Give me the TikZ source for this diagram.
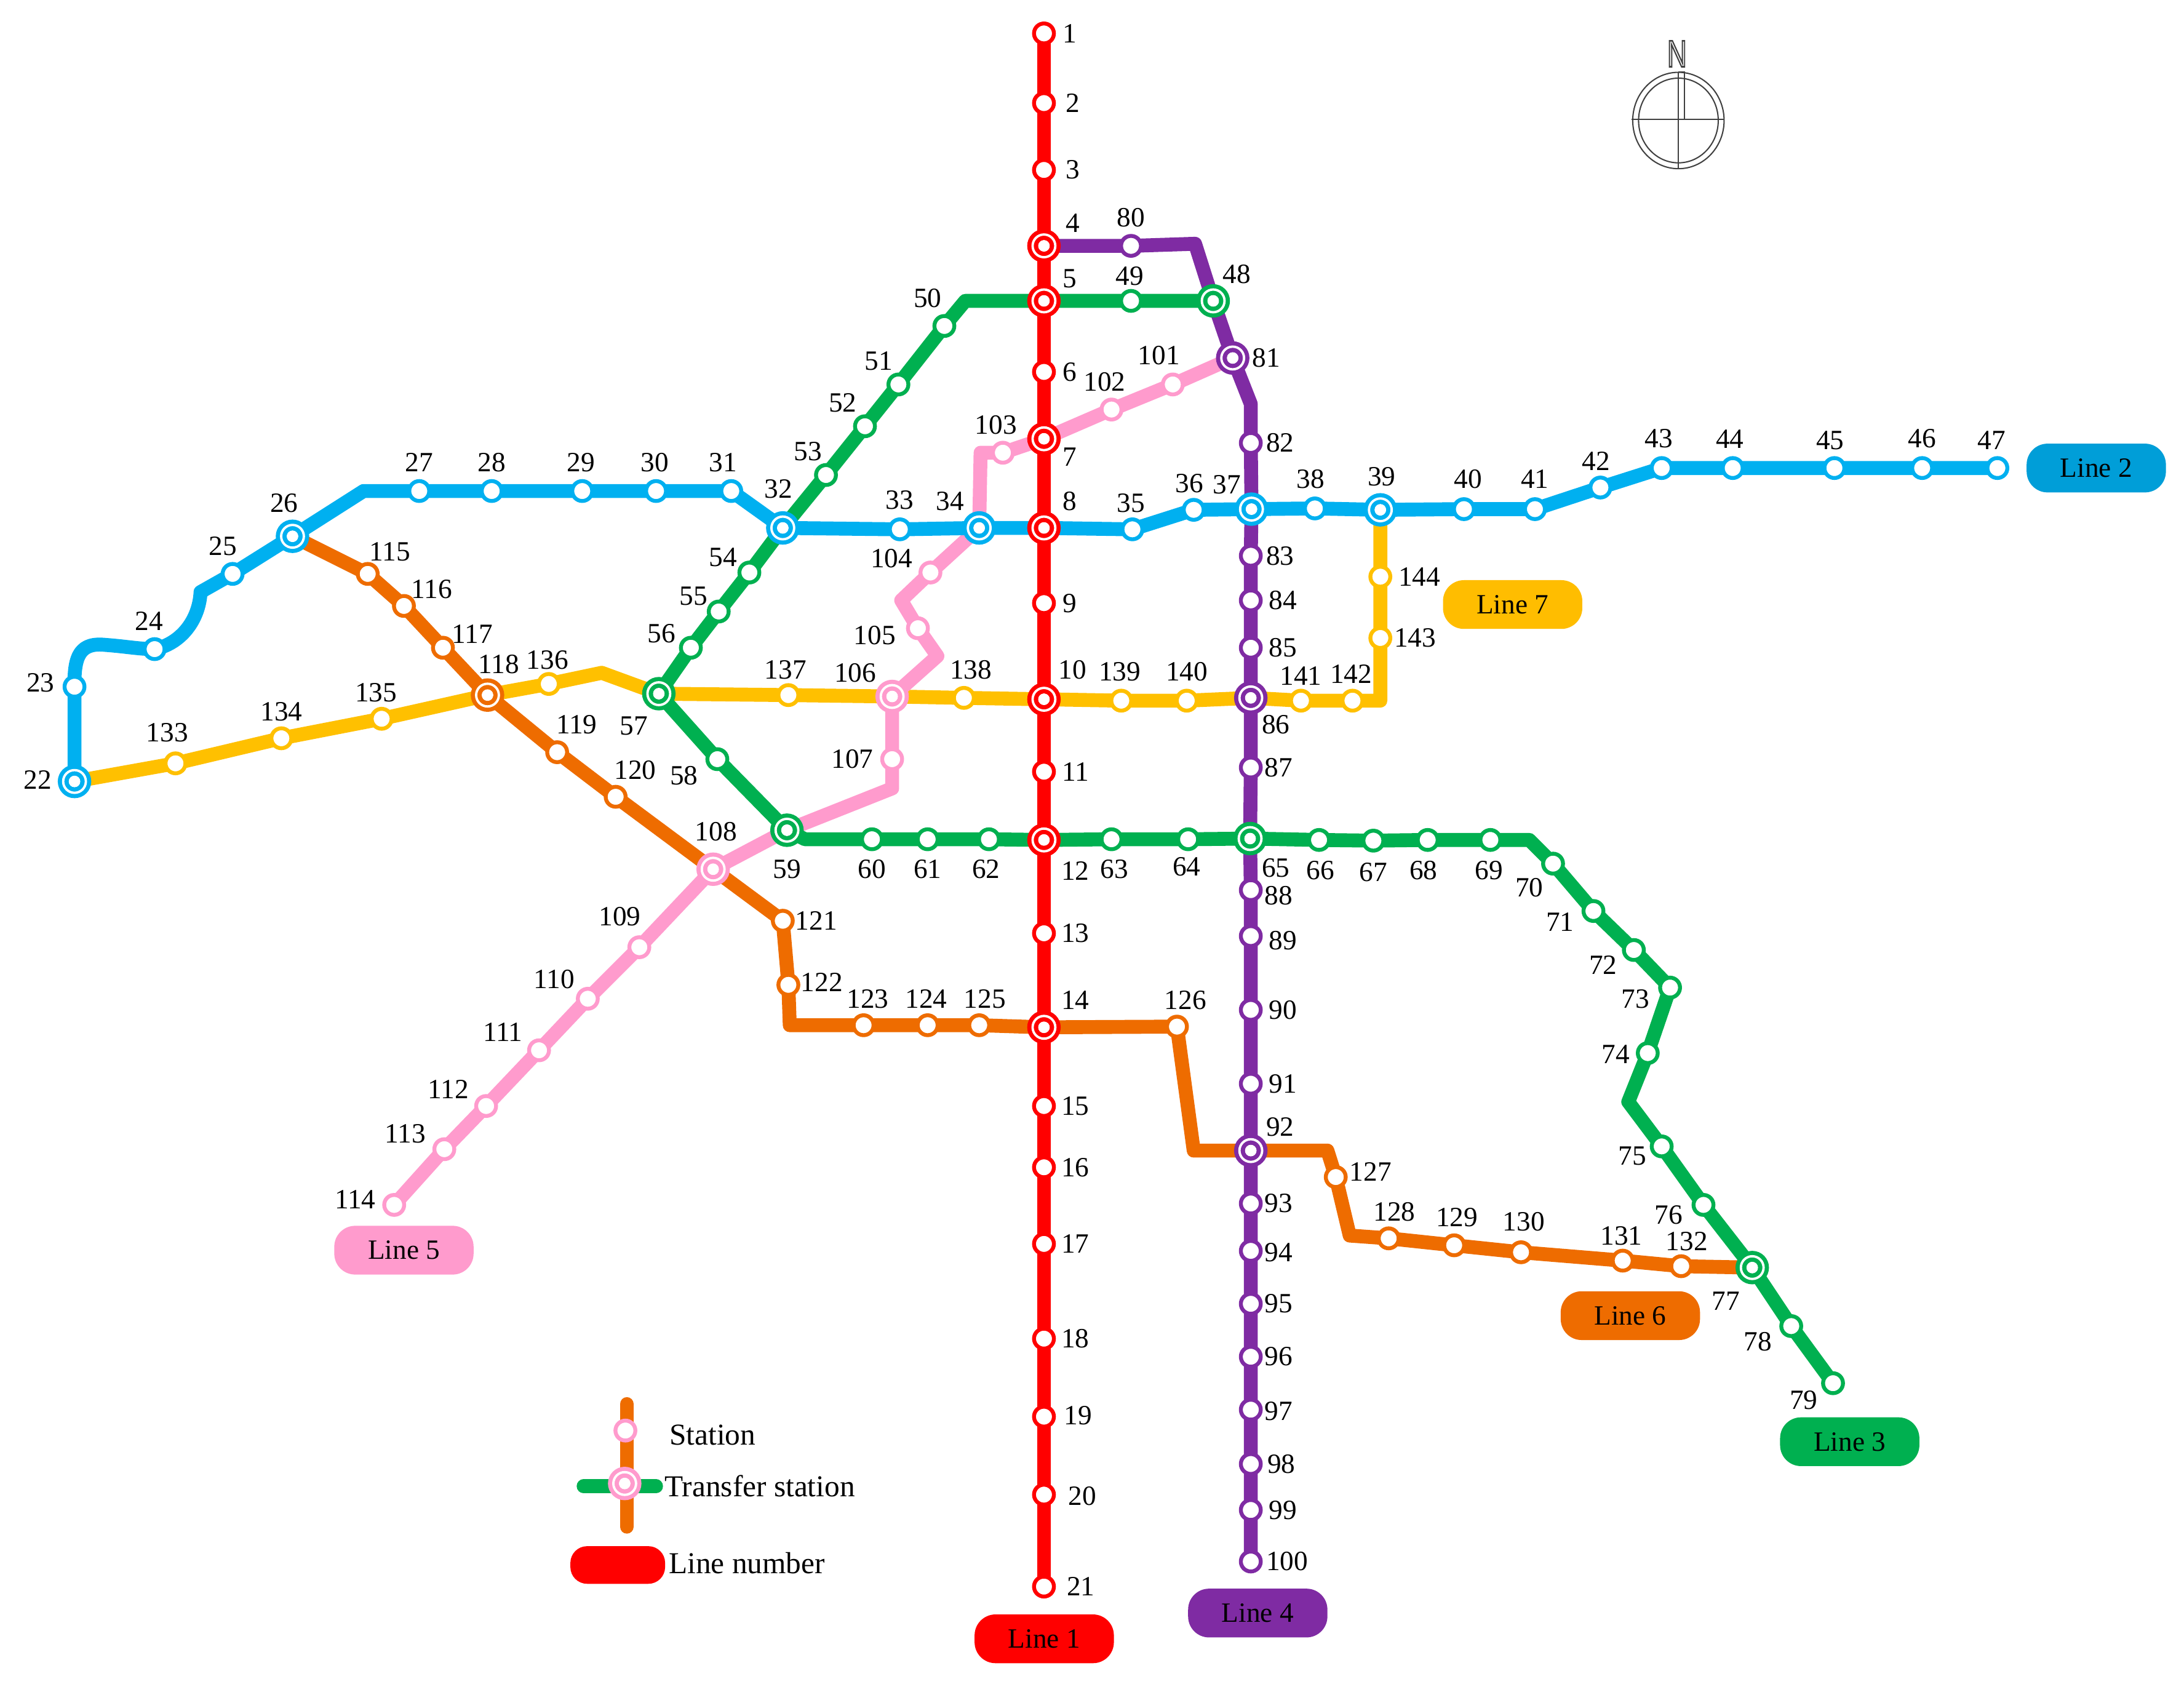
\documentclass[tikz,border=0pt]{standalone}
\usepackage{fontspec}
\setmainfont{Liberation Serif}
\newfontfamily\northfont{Liberation Sans}
\usetikzlibrary{backgrounds}
\definecolor{lred}{HTML}{FF0000}
\definecolor{lblue}{HTML}{00B0F0}
\definecolor{lgreen}{HTML}{00B050}
\definecolor{lpurple}{HTML}{7F2BA3}
\definecolor{lpink}{HTML}{FF9BCD}
\definecolor{lorange}{HTML}{EE6C00}
\definecolor{lyellow}{HTML}{FFC000}
\definecolor{ngray}{HTML}{404040}

\begin{document}
\begin{tikzpicture}[x=1pt,y=-1pt,
    station/.style={circle,minimum size=14.3pt,inner sep=0pt,outer sep=0pt,fill=white,draw=#1,line width=2.8pt},
    transfer/.style={circle,minimum size=16.3pt,inner sep=0pt,outer sep=0pt,fill=#1,draw=#1,line width=3pt,double=white,double distance=1.7pt,
        path picture={\fill[white] (path picture bounding box.center) circle (4.2pt);}},
    num/.style={font=\fontsize{20}{20}\selectfont,inner sep=0pt},
    legendtext/.style={font=\fontsize{21.8}{22}\selectfont,inner sep=0pt,anchor=west},
    pill/.style={rectangle,rounded corners=15pt,minimum width=100pt,minimum height=35pt,fill=#1,inner sep=0pt,font=\fontsize{20}{20}\selectfont},
    metro/.style={draw=#1,line width=10pt,line join=round}]
    \path[use as bounding box] (0,0) rectangle (1568,1211.1);

    % line 1
    \node[station=lred] (s1) at (749.5,24) {}; \node[num] (n1) at (768,24) {1};
    \node[station=lred] (s2) at (749.5,74) {}; \node[num] (n2) at (770,74) {2};
    \node[station=lred] (s3) at (749.5,122) {}; \node[num] (n3) at (770,122) {3};
    \node[transfer=lred] (s4) at (749.5,176.5) {}; \node[num] (n4) at (770,160) {4};
    \node[transfer=lred] (s5) at (749.5,216) {}; \node[num] (n5) at (768,200) {5};
    \node[station=lred] (s6) at (749.5,267) {}; \node[num] (n6) at (768,267) {6};
    \node[transfer=lred] (s7) at (749.5,315) {}; \node[num] (n7) at (768,328) {7};
    \node[transfer=lred] (s8) at (749.5,379) {}; \node[num] (n8) at (768,360) {8};
    \node[station=lred] (s9) at (749.5,433) {}; \node[num] (n9) at (768,433) {9};
    \node[transfer=lred] (s10) at (749.5,502) {}; \node[num] (n10) at (770,481) {10};
    \node[station=lred] (s11) at (749.5,554) {}; \node[num] (n11) at (772,554) {11};
    \node[transfer=lred] (s12) at (749.5,603) {}; \node[num] (n12) at (772,625) {12};
    \node[station=lred] (s13) at (749.5,670) {}; \node[num] (n13) at (772,670) {13};
    \node[transfer=lred] (s14) at (749.5,737.5) {}; \node[num] (n14) at (772,718) {14};
    \node[station=lred] (s15) at (749.5,794) {}; \node[num] (n15) at (772,794) {15};
    \node[station=lred] (s16) at (749.5,838) {}; \node[num] (n16) at (772,838) {16};
    \node[station=lred] (s17) at (749.5,893) {}; \node[num] (n17) at (772,893) {17};
    \node[station=lred] (s18) at (749.5,961) {}; \node[num] (n18) at (772,961) {18};
    \node[station=lred] (s19) at (749.5,1017) {}; \node[num] (n19) at (774,1016) {19};
    \node[station=lred] (s20) at (749.5,1073) {}; \node[num] (n20) at (777,1074) {20};
    \node[station=lred] (s21) at (749.5,1139) {}; \node[num] (n21) at (776,1139) {21};

    % line 2
    \node[transfer=lblue] (s22) at (53.5,561) {}; \node[num] (n22) at (27,560) {22};
    \node[station=lblue] (s23) at (53.5,493) {}; \node[num] (n23) at (29,490) {23};
    \node[station=lblue] (s24) at (111,466) {}; \node[num] (n24) at (107,446) {24};
    \node[station=lblue] (s25) at (167,412) {}; \node[num] (n25) at (160,392) {25};
    \node[transfer=lblue] (s26) at (210,385) {}; \node[num] (n26) at (204,361) {26};
    \node[station=lblue] (s27) at (301,352.5) {}; \node[num] (n27) at (301,332) {27};
    \node[station=lblue] (s28) at (353,352.5) {}; \node[num] (n28) at (353,332) {28};
    \node[station=lblue] (s29) at (418,352.5) {}; \node[num] (n29) at (417,332) {29};
    \node[station=lblue] (s30) at (471,352.5) {}; \node[num] (n30) at (470,332) {30};
    \node[station=lblue] (s31) at (525,352.5) {}; \node[num] (n31) at (519,332) {31};
    \node[transfer=lblue] (s32) at (562,379) {}; \node[num] (n32) at (559,351) {32};
    \node[station=lblue] (s33) at (646,380) {}; \node[num] (n33) at (646,359) {33};
    \node[transfer=lblue] (s34) at (703,379) {}; \node[num] (n34) at (682,360) {34};
    \node[station=lblue] (s35) at (813,380) {}; \node[num] (n35) at (812,361) {35};
    \node[station=lblue] (s36) at (857,366) {}; \node[num] (n36) at (854,347) {36};
    \node[transfer=lblue] (s37) at (898.5,365.5) {}; \node[num] (n37) at (881,348) {37};
    \node[station=lblue] (s38) at (944,365) {}; \node[num] (n38) at (941,344) {38};
    \node[transfer=lblue] (s39) at (991,366) {}; \node[num] (n39) at (992,342) {39};
    \node[station=lblue] (s40) at (1051,365.5) {}; \node[num] (n40) at (1054,344) {40};
    \node[station=lblue] (s41) at (1102,365.5) {}; \node[num] (n41) at (1102,344) {41};
    \node[station=lblue] (s42) at (1149,350) {}; \node[num] (n42) at (1146,331) {42};
    \node[station=lblue] (s43) at (1193,336) {}; \node[num] (n43) at (1191,315) {43};
    \node[station=lblue] (s44) at (1244,336) {}; \node[num] (n44) at (1242,315) {44};
    \node[station=lblue] (s45) at (1317,336) {}; \node[num] (n45) at (1314,316) {45};
    \node[station=lblue] (s46) at (1380,336) {}; \node[num] (n46) at (1380,315) {46};
    \node[station=lblue] (s47) at (1434,336) {}; \node[num] (n47) at (1430,316) {47};

    % line 3
    \node[transfer=lgreen] (s48) at (871,216) {}; \node[num] (n48) at (888,197) {48};
    \node[station=lgreen] (s49) at (812,216) {}; \node[num] (n49) at (811,198) {49};
    \node[station=lgreen] (s50) at (678,234) {}; \node[num] (n50) at (666,214) {50};
    \node[station=lgreen] (s51) at (645,276) {}; \node[num] (n51) at (631,259) {51};
    \node[station=lgreen] (s52) at (621,306) {}; \node[num] (n52) at (605,289) {52};
    \node[station=lgreen] (s53) at (593,341) {}; \node[num] (n53) at (580,324) {53};
    \node[station=lgreen] (s54) at (538,411) {}; \node[num] (n54) at (519,400) {54};
    \node[station=lgreen] (s55) at (516,439) {}; \node[num] (n55) at (498,428) {55};
    \node[station=lgreen] (s56) at (496,465) {}; \node[num] (n56) at (475,455) {56};
    \node[transfer=lgreen] (s57) at (473,498) {}; \node[num] (n57) at (455,521) {57};
    \node[station=lgreen] (s58) at (515,545) {}; \node[num] (n58) at (491,557) {58};
    \node[transfer=lgreen] (s59) at (565,596) {}; \node[num] (n59) at (565,624) {59};
    \node[station=lgreen] (s60) at (626,602.5) {}; \node[num] (n60) at (626,624) {60};
    \node[station=lgreen] (s61) at (666,602.5) {}; \node[num] (n61) at (666,624) {61};
    \node[station=lgreen] (s62) at (710,602.5) {}; \node[num] (n62) at (708,624) {62};
    \node[station=lgreen] (s63) at (798,602.5) {}; \node[num] (n63) at (800,624) {63};
    \node[station=lgreen] (s64) at (853,602.5) {}; \node[num] (n64) at (852,622) {64};
    \node[transfer=lgreen] (s65) at (897.5,602) {}; \node[num] (n65) at (916,623) {65};
    \node[station=lgreen] (s66) at (947,603) {}; \node[num] (n66) at (948,625) {66};
    \node[station=lgreen] (s67) at (986,603.5) {}; \node[num] (n67) at (986,626) {67};
    \node[station=lgreen] (s68) at (1025,603) {}; \node[num] (n68) at (1022,625) {68};
    \node[station=lgreen] (s69) at (1070,603) {}; \node[num] (n69) at (1069,625) {69};
    \node[station=lgreen] (s70) at (1115,620) {}; \node[num] (n70) at (1098,637) {70};
    \node[station=lgreen] (s71) at (1144,654) {}; \node[num] (n71) at (1120,662) {71};
    \node[station=lgreen] (s72) at (1173,682) {}; \node[num] (n72) at (1151,693) {72};
    \node[station=lgreen] (s73) at (1199,709) {}; \node[num] (n73) at (1174,717) {73};
    \node[station=lgreen] (s74) at (1183,756) {}; \node[num] (n74) at (1160,757) {74};
    \node[station=lgreen] (s75) at (1193,823) {}; \node[num] (n75) at (1172,830) {75};
    \node[station=lgreen] (s76) at (1223,865) {}; \node[num] (n76) at (1198,872) {76};
    \node[transfer=lgreen] (s77) at (1258,910) {}; \node[num] (n77) at (1239,934) {77};
    \node[station=lgreen] (s78) at (1286,952) {}; \node[num] (n78) at (1262,963) {78};
    \node[station=lgreen] (s79) at (1316,993) {}; \node[num] (n79) at (1295,1005) {79};

    % line 4
    \node[station=lpurple] (s80) at (812,176.5) {}; \node[num] (n80) at (812,156) {80};
    \node[transfer=lpurple] (s81) at (885,257) {}; \node[num] (n81) at (909,257) {81};
    \node[station=lpurple] (s82) at (898,318) {}; \node[num] (n82) at (919,318) {82};
    \node[station=lpurple] (s83) at (898,399) {}; \node[num] (n83) at (919,399) {83};
    \node[station=lpurple] (s84) at (898,431) {}; \node[num] (n84) at (921,431) {84};
    \node[station=lpurple] (s85) at (898,465) {}; \node[num] (n85) at (921,465) {85};
    \node[transfer=lpurple] (s86) at (898,501) {}; \node[num] (n86) at (916,520) {86};
    \node[station=lpurple] (s87) at (898,551) {}; \node[num] (n87) at (918,551) {87};
    \node[station=lpurple] (s88) at (898,639) {}; \node[num] (n88) at (918,643) {88};
    \node[station=lpurple] (s89) at (898,672) {}; \node[num] (n89) at (921,675) {89};
    \node[station=lpurple] (s90) at (898,725) {}; \node[num] (n90) at (921,725) {90};
    \node[station=lpurple] (s91) at (898,778) {}; \node[num] (n91) at (921,778) {91};
    \node[transfer=lpurple] (s92) at (898,826) {}; \node[num] (n92) at (919,809) {92};
    \node[station=lpurple] (s93) at (898,864) {}; \node[num] (n93) at (918,864) {93};
    \node[station=lpurple] (s94) at (898,898) {}; \node[num] (n94) at (918,899) {94};
    \node[station=lpurple] (s95) at (898,936) {}; \node[num] (n95) at (918,936) {95};
    \node[station=lpurple] (s96) at (898,974) {}; \node[num] (n96) at (918,974) {96};
    \node[station=lpurple] (s97) at (898,1012) {}; \node[num] (n97) at (918,1013) {97};
    \node[station=lpurple] (s98) at (898,1051) {}; \node[num] (n98) at (920,1051) {98};
    \node[station=lpurple] (s99) at (898,1084) {}; \node[num] (n99) at (921,1084) {99};
    \node[station=lpurple] (s100) at (898,1121) {}; \node[num] (n100) at (924,1121) {100};

    % line 5
    \node[station=lpink] (s101) at (842,276) {}; \node[num] (n101) at (832,255) {101};
    \node[station=lpink] (s102) at (798,294) {}; \node[num] (n102) at (793,274) {102};
    \node[station=lpink] (s103) at (720,325) {}; \node[num] (n103) at (715,305) {103};
    \node[station=lpink] (s104) at (668,411) {}; \node[num] (n104) at (640,401) {104};
    \node[station=lpink] (s105) at (659,451) {}; \node[num] (n105) at (628,456) {105};
    \node[transfer=lpink] (s106) at (640.5,500) {}; \node[num] (n106) at (614,483) {106};
    \node[station=lpink] (s107) at (640.5,545) {}; \node[num] (n107) at (612,545) {107};
    \node[transfer=lpink] (s108) at (512,624) {}; \node[num] (n108) at (514,597) {108};
    \node[station=lpink] (s109) at (459,680) {}; \node[num] (n109) at (445,658) {109};
    \node[station=lpink] (s110) at (422,717) {}; \node[num] (n110) at (398,703) {110};
    \node[station=lpink] (s111) at (387,754) {}; \node[num] (n111) at (361,741) {111};
    \node[station=lpink] (s112) at (349,794) {}; \node[num] (n112) at (322,782) {112};
    \node[station=lpink] (s113) at (319,825) {}; \node[num] (n113) at (291,814) {113};
    \node[station=lpink] (s114) at (283,865) {}; \node[num] (n114) at (255,861) {114};

    % line 6
    \node[station=lorange] (s115) at (264,412) {}; \node[num] (n115) at (280,396) {115};
    \node[station=lorange] (s116) at (290,435) {}; \node[num] (n116) at (310,423) {116};
    \node[station=lorange] (s117) at (318,465) {}; \node[num] (n117) at (339,455) {117};
    \node[transfer=lorange] (s118) at (350,499) {}; \node[num] (n118) at (358,477) {118};
    \node[station=lorange] (s119) at (400,540) {}; \node[num] (n119) at (414,520) {119};
    \node[station=lorange] (s120) at (442,572) {}; \node[num] (n120) at (456,553) {120};
    \node[station=lorange] (s121) at (562,661) {}; \node[num] (n121) at (586,661) {121};
    \node[station=lorange] (s122) at (566,707) {}; \node[num] (n122) at (590,705) {122};
    \node[station=lorange] (s123) at (620,736) {}; \node[num] (n123) at (623,717) {123};
    \node[station=lorange] (s124) at (666,736) {}; \node[num] (n124) at (665,717) {124};
    \node[station=lorange] (s125) at (703,736) {}; \node[num] (n125) at (707,717) {125};
    \node[station=lorange] (s126) at (845,737) {}; \node[num] (n126) at (851,718) {126};
    \node[station=lorange] (s127) at (959,845) {}; \node[num] (n127) at (984,841) {127};
    \node[station=lorange] (s128) at (997,889) {}; \node[num] (n128) at (1001,870) {128};
    \node[station=lorange] (s129) at (1044,894) {}; \node[num] (n129) at (1046,874) {129};
    \node[station=lorange] (s130) at (1092,899) {}; \node[num] (n130) at (1094,877) {130};
    \node[station=lorange] (s131) at (1165,905) {}; \node[num] (n131) at (1164,887) {131};
    \node[station=lorange] (s132) at (1207,909) {}; \node[num] (n132) at (1211,891) {132};

    % line 7
    \node[station=lyellow] (s133) at (126,548) {}; \node[num] (n133) at (120,526) {133};
    \node[station=lyellow] (s134) at (202,530) {}; \node[num] (n134) at (202,511) {134};
    \node[station=lyellow] (s135) at (274,516) {}; \node[num] (n135) at (270,497) {135};
    \node[station=lyellow] (s136) at (394,491) {}; \node[num] (n136) at (393,474) {136};
    \node[station=lyellow] (s137) at (566,499) {}; \node[num] (n137) at (564,481) {137};
    \node[station=lyellow] (s138) at (692,501) {}; \node[num] (n138) at (697,481) {138};
    \node[station=lyellow] (s139) at (805,503) {}; \node[num] (n139) at (804,482) {139};
    \node[station=lyellow] (s140) at (852,503) {}; \node[num] (n140) at (852,482) {140};
    \node[station=lyellow] (s141) at (934,503) {}; \node[num] (n141) at (934,485) {141};
    \node[station=lyellow] (s142) at (971,503) {}; \node[num] (n142) at (970,484) {142};
    \node[station=lyellow] (s143) at (991,458) {}; \node[num] (n143) at (1016,458) {143};
    \node[station=lyellow] (s144) at (991,414) {}; \node[num] (n144) at (1019,414) {144};

    % bends
    \coordinate (b1) at (76,463);
    \coordinate (b2) at (144,425);
    \coordinate (b3) at (261,352.5);
    \coordinate (g1) at (693,216);
    \coordinate (g2) at (578,602.5);
    \coordinate (g3) at (1098,603);
    \coordinate (g4) at (1169,791);
    \coordinate (p1) at (858,175);
    \coordinate (p2) at (898,290);
    \coordinate (k1) at (704,325);
    \coordinate (k2) at (647,431);
    \coordinate (k3) at (673,471);
    \coordinate (k4) at (640.5,566);
    \coordinate (o1) at (567,736);
    \coordinate (o2) at (857,826);
    \coordinate (o3) at (953,826);
    \coordinate (o4) at (969,887);
    \coordinate (y1) at (432,483);
    \coordinate (y2) at (991,503);

    \begin{scope}[on background layer]
    \fill[white] (0,0) rectangle (1568,1211.1);
    \draw[metro=lorange] (s26.center) -- (s115.center) -- (s116.center) -- (s117.center) -- (s118.center) -- (s119.center) -- (s120.center) -- (s108.center) -- (s121.center) -- (s122.center) -- (o1) -- (s123.center) -- (s124.center) -- (s125.center) -- (s14.center) -- (s126.center) -- (o2) -- (s92.center) -- (o3) -- (s127.center) -- (o4) -- (s128.center) -- (s129.center) -- (s130.center) -- (s131.center) -- (s132.center) -- (s77.center);
    \draw[metro=lyellow] (s22.center) -- (s133.center) -- (s134.center) -- (s135.center) -- (s118.center) -- (s136.center) -- (y1) -- (s57.center) -- (s137.center) -- (s106.center) -- (s138.center) -- (s10.center) -- (s139.center) -- (s140.center) -- (s86.center) -- (s141.center) -- (s142.center) -- (y2) -- (s143.center) -- (s144.center) -- (s39.center);
    \draw[metro=lpink] (s81.center) -- (s101.center) -- (s102.center) -- (s7.center) -- (s103.center) -- (k1) -- (s34.center) -- (s104.center) -- (k2) -- (s105.center) -- (k3) -- (s106.center) -- (s107.center) -- (k4) -- (s59.center) -- (s108.center) -- (s109.center) -- (s110.center) -- (s111.center) -- (s112.center) -- (s113.center) -- (s114.center);
    \draw[metro=lgreen] (s48.center) -- (s49.center) -- (s5.center) -- (g1) -- (s50.center) -- (s51.center) -- (s52.center) -- (s53.center) -- (s32.center) -- (s54.center) -- (s55.center) -- (s56.center) -- (s57.center) -- (s58.center) -- (s59.center) -- (g2) -- (s60.center) -- (s61.center) -- (s62.center) -- (s12.center) -- (s63.center) -- (s64.center) -- (s65.center) -- (s66.center) -- (s67.center) -- (s68.center) -- (s69.center) -- (g3) -- (s70.center) -- (s71.center) -- (s72.center) -- (s73.center) -- (s74.center) -- (g4) -- (s75.center) -- (s76.center) -- (s77.center) -- (s78.center) -- (s79.center);
    \draw[metro=lblue] (s22.center) -- (s23.center) .. controls (53,470) and (58,461) .. (b1) .. controls (90,464) and (100,466) .. (s24.center) .. controls (130,462) and (143,445) .. (b2) -- (s25.center) -- (s26.center) -- (b3) -- (s27.center) -- (s28.center) -- (s29.center) -- (s30.center) -- (s31.center) -- (s32.center) -- (s33.center) -- (s34.center) -- (s8.center) -- (s35.center) -- (s36.center) -- (s37.center) -- (s38.center) -- (s39.center) -- (s40.center) -- (s41.center) -- (s42.center) -- (s43.center) -- (s44.center) -- (s45.center) -- (s46.center) -- (s47.center);
    \draw[metro=lpurple] (s4.center) -- (s80.center) -- (p1) -- (s48.center) -- (s81.center) -- (p2) -- (s82.center) -- (s37.center) -- (s83.center) -- (s84.center) -- (s85.center) -- (s86.center) -- (s87.center) -- (s65.center) -- (s88.center) -- (s89.center) -- (s90.center) -- (s91.center) -- (s92.center) -- (s93.center) -- (s94.center) -- (s95.center) -- (s96.center) -- (s97.center) -- (s98.center) -- (s99.center) -- (s100.center);
    \draw[metro=lred] (s1.center) -- (s2.center) -- (s3.center) -- (s4.center) -- (s5.center) -- (s6.center) -- (s7.center) -- (s8.center) -- (s9.center) -- (s10.center) -- (s11.center) -- (s12.center) -- (s13.center) -- (s14.center) -- (s15.center) -- (s16.center) -- (s17.center) -- (s18.center) -- (s19.center) -- (s20.center) -- (s21.center);
    \end{scope}

    % line names
    \node[pill=lred] (line1) at (749.7,1176.5) {Line 1};
    \node[pill=lblue!90!black] (line2) at (1505,336) {Line 2};
    \node[pill=lgreen] (line3) at (1328,1035) {Line 3};
    \node[pill=lpurple] (line4) at (903,1158) {Line 4};
    \node[pill=lpink] (line5) at (290,897.5) {Line 5};
    \node[pill=lorange] (line6) at (1170.5,944.5) {Line 6};
    \node[pill=lyellow!95!orange] (line7) at (1086,434) {Line 7};

    % legend
    \node[station=lpink] (keystation) at (449,1027) {};
    \node[transfer=lpink] (keytransfer) at (448.5,1065) {};
    \coordinate (keytop) at (450,1008);
    \coordinate (keybottom) at (450,1096);
    \coordinate (keyleft) at (419,1067);
    \coordinate (keyright) at (471,1067);
    \begin{scope}[on background layer]
    \draw[metro=lorange,line cap=round] (keytop) -- (keybottom);
    \draw[metro=lgreen,line cap=round] (keyleft) -- (keyright);
    \end{scope}
    \node[legendtext] (keytext1) at (480.5,1030) {Station};
    \node[legendtext] (keytext2) at (477,1067) {Transfer station};
    \node[rectangle,rounded corners=12pt,minimum width=68pt,minimum height=27pt,fill=lred] (keynumber) at (443.5,1123.5) {};
    \node[legendtext] (keytext3) at (480,1122) {Line number};

    % north sign
    \draw[ngray,line width=.9pt] (1205,86.5) ellipse (32.8 and 34.6);
    \draw[ngray,line width=.9pt] (1205,86.5) ellipse (28.6 and 30.4);
    \draw[ngray,line width=.9pt] (1171.3,85.6) -- (1237.5,85.6);
    \draw[ngray,line width=.9pt] (1205,51.8) -- (1205,121);
    \draw[ngray,line width=.9pt] (1205,51.8) -- (1209.3,51.8) -- (1209.3,85.6);
    \node[inner sep=0pt,text=ngray,font=\northfont\fontsize{27}{27}\selectfont,xscale=.72,transform shape] (north) at (1204,38.6) {\special{pdf:code 1 Tr 1.2 w}N\special{pdf:code 0 Tr}};
\end{tikzpicture}
\end{document}
